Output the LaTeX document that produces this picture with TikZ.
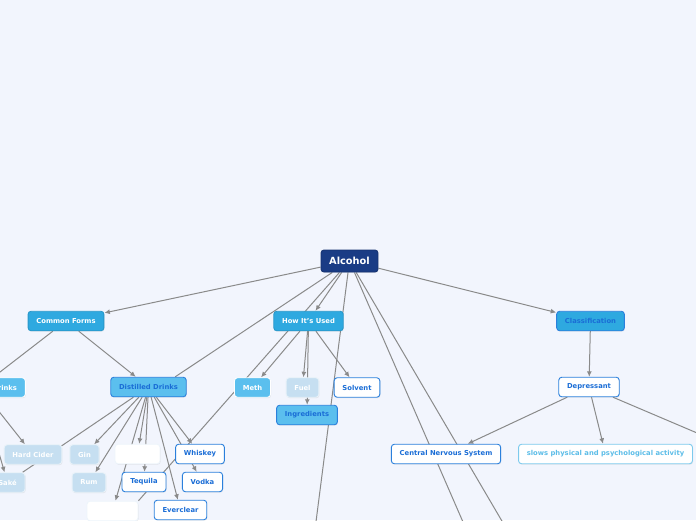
\documentclass[tikz,border=0pt]{standalone}
\usepackage{fontspec}
\setmainfont{DejaVu Sans}
\usetikzlibrary{arrows.meta, positioning, calc, shadows}
\definecolor{pagebg}{HTML}{F2F5FD}
\definecolor{rootnavy}{HTML}{1A3C85}
\definecolor{topiccyan}{HTML}{2EA9E0}
\definecolor{subsky}{HTML}{5BBFEE}
\definecolor{palesky}{HTML}{C6DFF1}
\definecolor{inkblue}{HTML}{1A6DD6}
\definecolor{rimblue}{HTML}{2B80DC}
\definecolor{notesky}{HTML}{5CBDE8}
\definecolor{edgegray}{HTML}{8A8A8A}
\pgfdeclarelayer{bglayer}
\pgfdeclarelayer{edgelayer}
\pgfsetlayers{bglayer,edgelayer,main}

\begin{document}
\begin{tikzpicture}[x=1pt, y=-1pt,
        box/.style={rectangle, rounded corners=3pt, line width=0.9pt, inner xsep=8.3pt, inner ysep=0pt, minimum height=19.5pt, font=\fontsize{6.8}{8}\selectfont\bfseries, drop shadow={shadow xshift=0.6pt, shadow yshift=-0.9pt, opacity=0.15}},
        rootbox/.style={box, fill=rootnavy, draw=rootnavy!85!black, text=white, minimum height=22pt, inner xsep=8.2pt, font=\fontsize{9.8}{11}\selectfont\bfseries},
        topicbox/.style={box, fill=topiccyan, draw=topiccyan!90!black, text=white},
        subbox/.style={box, fill=subsky, draw=white, text=white},
        palebox/.style={box, fill=palesky, draw=palesky!40!white, text=white},
        leafbox/.style={box, fill=white, draw=rimblue, text=inkblue},
        notebox/.style={box, fill=white, draw=notesky!80!white, text=notesky},
        emptybox/.style={box, fill=white, draw=palesky!30!white},
        line/.style={draw=edgegray, line width=1pt, -{Latex[length=5.5pt,width=5pt]}},
        link/.style={draw=edgegray, line width=1pt}]

        % Page
        \begin{pgfonlayer}{bglayer}
        \fill[pagebg] (0,0) rectangle (696,520);
        \end{pgfonlayer}
        \useasboundingbox (0,0) rectangle (696,520);

        % Nodes - root and topics
        \node [rootbox] (alcohol) at (349.5,261) {Alcohol};
        \node [topicbox] (forms) at (66,321) {Common Forms};
        \node [topicbox] (uses) at (308.5,321) {How It's Used};
        \node [topicbox, draw=rimblue, text=inkblue] (classes) at (590.5,321) {Classification};

        % Nodes - second level
        \node [subbox, text width=74pt, align=right] (drinks) at (-20,387.5) {Drinks};
        \node [subbox, draw=rimblue, text=inkblue] (distilled) at (148.5,387) {Distilled Drinks};
        \node [subbox] (meth) at (252.5,387.5) {Meth};
        \node [palebox] (fuel) at (302.5,387.5) {Fuel};
        \node [leafbox] (solvent) at (357,387.5) {Solvent};
        \node [subbox, draw=rimblue, text=inkblue] (ingredients) at (307,415) {Ingredients};
        \node [leafbox] (depressant) at (589,387) {Depressant};

        % Nodes - leaves
        \node [palebox] (cider) at (33,454.5) {Hard Cider};
        \node [palebox] (gin) at (84.5,454.5) {Gin};
        \node [emptybox, minimum width=45pt] (blankA) at (137.5,454) {};
        \node [leafbox] (whiskey) at (200,454) {Whiskey};
        \node [palebox] (sake) at (7.5,482.5) {Saké};
        \node [palebox] (rum) at (89,482.5) {Rum};
        \node [leafbox] (tequila) at (144,482) {Tequila};
        \node [leafbox] (vodka) at (202.5,482) {Vodka};
        \node [emptybox, minimum width=51pt] (blankB) at (112.5,511) {};
        \node [leafbox] (everclear) at (180.5,510) {Everclear};
        \node [leafbox] (cns) at (446,454) {Central Nervous System};
        \node [notebox] (slows) at (605.5,454) {slows physical and psychological activity};

        % Ends below the page
        \coordinate (offA) at (313,545);
        \coordinate (offB) at (473,545);
        \coordinate (offC) at (516,545);
        \coordinate (offD) at (730,447);

        \begin{pgfonlayer}{edgelayer}
        % Arrows
        \path [line] (alcohol) -- (forms);
        \path [line] (alcohol) -- (uses);
        \path [line] (alcohol) -- (classes);
        \path [line] (forms) -- (drinks);
        \path [line] (forms) -- (distilled);
        \path [line] (drinks) -- (cider);
        \path [line] (drinks) -- (sake);
        \path [line] (distilled) -- (gin);
        \path [line] (distilled) -- (rum);
        \path [line] (distilled) -- (blankA);
        \path [line] (distilled) -- (tequila);
        \path [line] (distilled) -- (blankB);
        \path [line] (distilled) -- (everclear);
        \path [line] (distilled) -- (whiskey);
        \path [line] (distilled) -- (vodka);
        \path [line] (uses) -- (meth);
        \path [line] (uses) -- (fuel);
        \path [line] (uses) -- (ingredients);
        \path [line] (uses) -- (solvent);
        \path [line] (classes) -- (depressant);
        \path [line] (depressant) -- (cns);
        \path [line] (depressant) -- (slows);

        % Plain links
        \path [link] (alcohol) -- ($(distilled.north)!0.7!(distilled.north east)$);
        \path [link] (alcohol) -- (blankB.north east);
        \path [link] (alcohol) -- (offA);
        \path [link] (alcohol) -- (offB);
        \path [link] (alcohol) -- (offC);
        \path [link] (distilled) -- (sake);
        \path [link] (depressant) -- (offD);
        \end{pgfonlayer}
    \end{tikzpicture}
\end{document}
